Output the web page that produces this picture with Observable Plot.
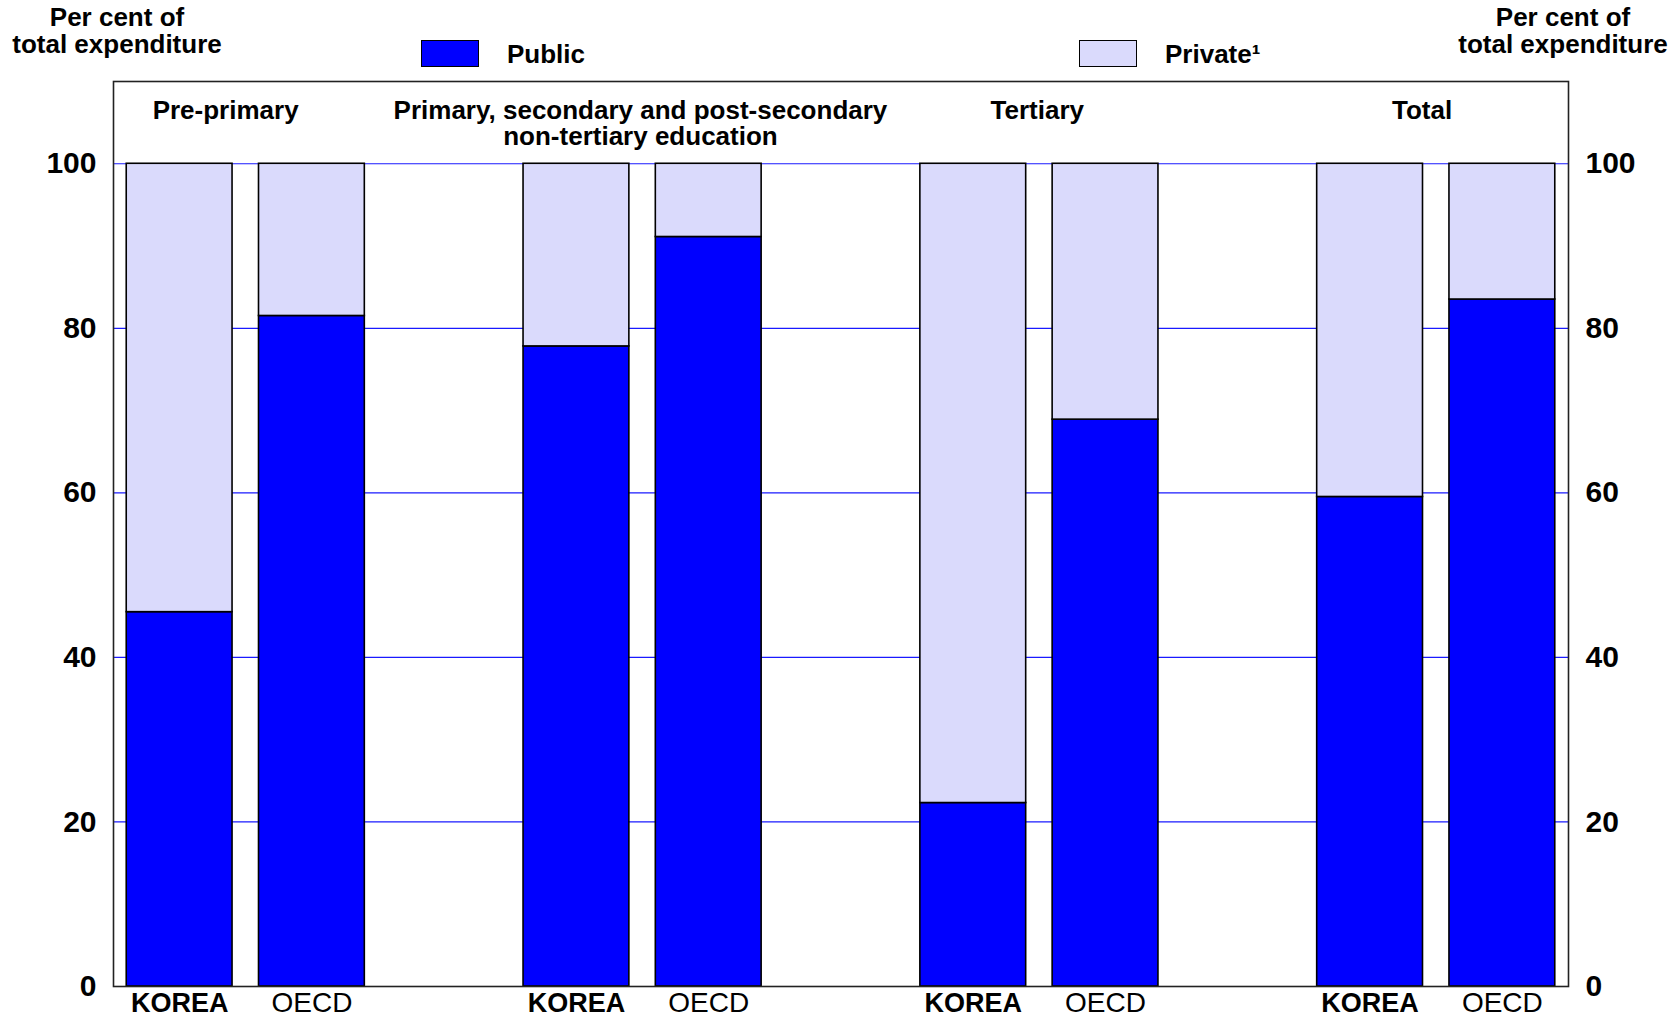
<!DOCTYPE html>
<html>
<head>
<meta charset="utf-8">
<script src="https://cdn.jsdelivr.net/npm/d3@7"></script>
<script src="https://cdn.jsdelivr.net/npm/@observablehq/plot@0.6"></script>
<style>
  html, body { margin: 0; padding: 0; background: #fff; }
  body { width: 1680px; height: 1016px; overflow: hidden; font-family: "Liberation Sans", Arial, sans-serif; color: #000; }
  #header { position: relative; width: 1680px; height: 70px; }
  .ytitle { position: absolute; top: 4px; transform: translateX(-50%); text-align: center; font-size: 26px; font-weight: bold; line-height: 27px; white-space: nowrap; }
  .sw { position: absolute; top: 40px; width: 56px; height: 25px; border: 1.5px solid #000; }
  .lg { position: absolute; top: 40px; font-size: 26px; font-weight: bold; line-height: 28px; white-space: nowrap; }
  #chart svg { display: block; }
</style>
</head>
<body>
<div id="header"></div>
<div id="chart"></div>
<script>
// ---- data ----
const categories = ["Pre-primary", "Primary, secondary and post-secondary\nnon-tertiary education", "Tertiary", "Total"];
const countries = ["KOREA", "OECD"];
const publicKorea = [45.5, 77.8, 22.3, 59.5];
const privateKorea = [54.5, 22.2, 77.7, 40.5];
const publicOecd = [81.5, 91.1, 68.9, 83.5];
const privateOecd = [18.5, 8.9, 31.1, 16.5];
const series = ["Public", "Private"];
const seriesLabels = ["Public", "Private¹"];
const seriesColors = ["#0000ff", "#dadafc"];
const yTicks = [0, 20, 40, 60, 80, 100];
const yTitle = ["Per cent of", "total expenditure"];

// ---- build table ----
const rows = [];
const xDomain = [];
categories.forEach((cat, i) => {
  countries.forEach(c => {
    const key = `${i}-${c}`;
    xDomain.push(key);
    const pub = c === "KOREA" ? publicKorea[i] : publicOecd[i];
    const pri = c === "KOREA" ? privateKorea[i] : privateOecd[i];
    rows.push({key, cat, i, country: c, type: "Public", value: pub});
    rows.push({key, cat, i, country: c, type: "Private", value: pri});
  });
  if (i < categories.length - 1) xDomain.push(`gap${i}`);
});
const labelRows = rows.filter(d => d.type === "Public");
const catRows = categories.map((cat, i) => ({key: `${i}-KOREA`, cat, i}));
const catShift = [46, 64, 64, 52];

// ---- header (titles + legend) ----
const header = document.getElementById("header");
function addDiv(cls, style, html) {
  const d = document.createElement("div");
  d.className = cls;
  Object.assign(d.style, style);
  d.innerHTML = html;
  header.appendChild(d);
}
addDiv("ytitle", {left: "117px"}, yTitle.join("<br>"));
addDiv("ytitle", {left: "1563px"}, yTitle.join("<br>"));
const swX = [421, 1079];
const lgX = [507, 1165];
series.forEach((s, k) => {
  addDiv("sw", {left: swX[k] + "px", background: seriesColors[k]}, "");
  addDiv("lg", {left: lgX[k] + "px"}, seriesLabels[k]);
});

// ---- chart ----
const W = 1680, H = 946;
const mL = 113, mR = 112;

const chart = Plot.plot({
  width: W,
  height: H,
  marginTop: 11,
  marginBottom: 30,
  marginLeft: mL,
  marginRight: mR,
  style: {fontFamily: "'Liberation Sans', Arial, sans-serif", fontSize: "27px", color: "#000", background: "#fff", overflow: "visible"},
  x: {type: "band", domain: xDomain, paddingInner: 0.2, paddingOuter: 0.1, round: false, axis: null},
  y: {domain: [0, 110], axis: null},
  color: {domain: series, range: seriesColors},
  marks: [
    Plot.ruleY(yTicks.filter(d => d > 0), {stroke: "#1a1aff", strokeWidth: 1.2}),
    Plot.barY(rows, {x: "key", y: "value", fill: "type", order: series, stroke: "#000", strokeWidth: 1.6}),
    Plot.axisY(yTicks, {anchor: "left", tickSize: 0, tickPadding: 17, label: null, fontSize: 30, fontWeight: "bold"}),
    Plot.axisY(yTicks, {anchor: "right", tickSize: 0, tickPadding: 17, label: null, fontSize: 30, fontWeight: "bold"}),
    Plot.frame({stroke: "#222", strokeWidth: 1.6}),
    Plot.text(labelRows.filter(d => d.country === "KOREA"), {x: "key", text: "country", frameAnchor: "bottom", dy: 17, lineAnchor: "middle", fontWeight: "bold", fontSize: 27}),
    Plot.text(labelRows.filter(d => d.country === "OECD"), {x: "key", text: "country", frameAnchor: "bottom", dy: 17, lineAnchor: "middle", fontSize: 28}),
    ...catRows.map((r, k) => Plot.text([r], {x: "key", text: "cat", frameAnchor: "top", dy: 19, dx: catShift[k], lineAnchor: "top", lineHeight: 1, fontWeight: "bold", fontSize: 26}))
  ]
});
document.getElementById("chart").appendChild(chart);
</script>
</body>
</html>
